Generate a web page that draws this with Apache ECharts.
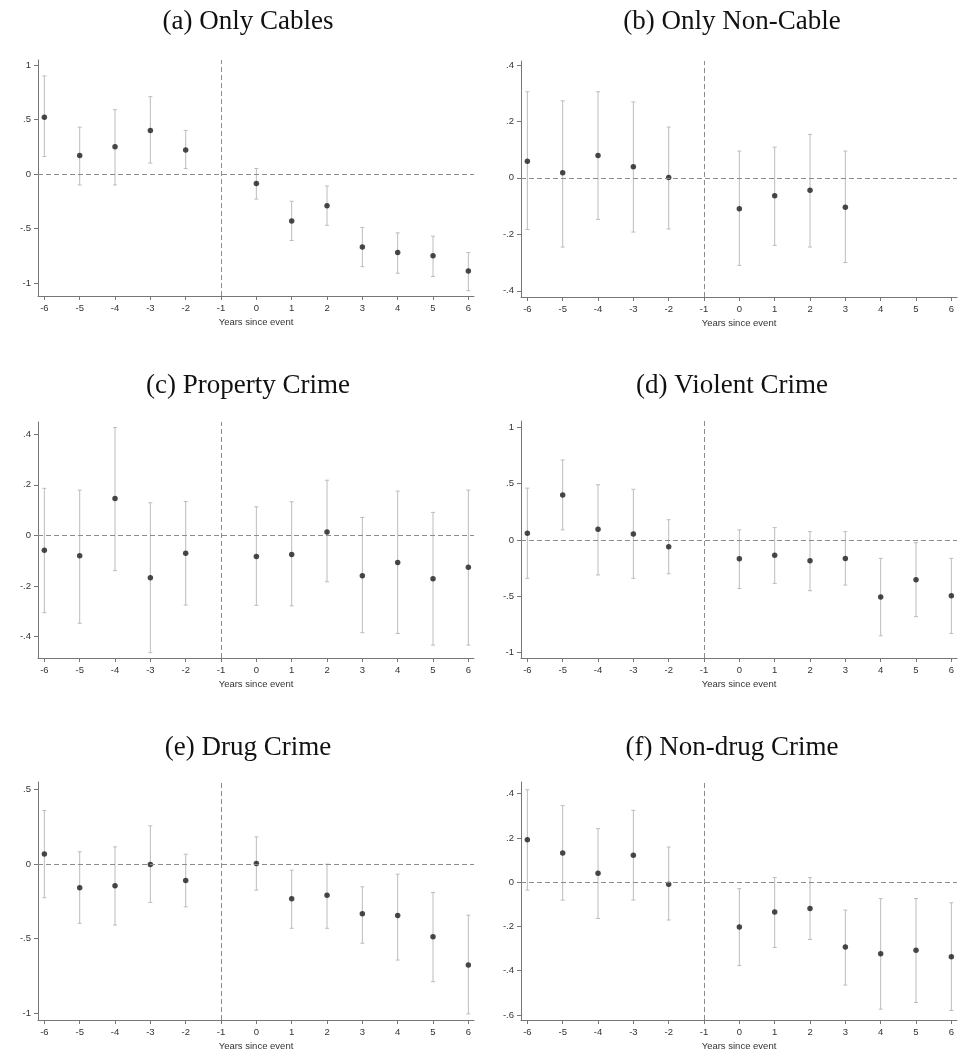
<!DOCTYPE html>
<html>
<head>
<meta charset="utf-8">
<script src="https://cdn.jsdelivr.net/npm/echarts@6/dist/echarts.min.js"></script>
<style>html,body{margin:0;background:#fff}</style>
</head>
<body>
<div id="chart" style="width:969px;height:1062px"></div>
<script>
// event years (-1 is the omitted reference year)
var years = [-6, -5, -4, -3, -2, 0, 1, 2, 3, 4, 5, 6];
var xTicks = [-6, -5, -4, -3, -2, -1, 0, 1, 2, 3, 4, 5, 6];

// (a) Only Cables
var cablesEst = [0.52, 0.17, 0.25, 0.40, 0.22, -0.086, -0.43, -0.29, -0.67, -0.72, -0.75, -0.89];
var cablesLo = [0.16, -0.10, -0.10, 0.10, 0.05, -0.23, -0.61, -0.47, -0.85, -0.91, -0.94, -1.07];
var cablesHi = [0.90, 0.43, 0.59, 0.71, 0.40, 0.05, -0.25, -0.11, -0.49, -0.54, -0.57, -0.72];
var cablesTicks = [-1, -0.5, 0, 0.5, 1];

// (b) Only Non-Cable
var nonCableEst = [0.059, 0.018, 0.079, 0.039, 0.001, -0.109, -0.063, -0.044, -0.104, null, null, null];
var nonCableLo = [-0.183, -0.245, -0.147, -0.192, -0.181, -0.31, -0.239, -0.245, -0.30, null, null, null];
var nonCableHi = [0.305, 0.273, 0.305, 0.269, 0.18, 0.095, 0.109, 0.154, 0.095, null, null, null];
var nonCableTicks = [-0.4, -0.2, 0, 0.2, 0.4];

// (c) Property Crime
var propertyEst = [-0.058, -0.080, 0.146, -0.167, -0.070, -0.083, -0.075, 0.014, -0.159, -0.107, -0.171, -0.126];
var propertyLo = [-0.305, -0.347, -0.139, -0.463, -0.275, -0.276, -0.278, -0.183, -0.384, -0.387, -0.433, -0.433];
var propertyHi = [0.186, 0.179, 0.426, 0.129, 0.134, 0.113, 0.133, 0.218, 0.071, 0.175, 0.091, 0.179];
var propertyTicks = [-0.4, -0.2, 0, 0.2, 0.4];

// (d) Violent Crime
var violentEst = [0.059, 0.40, 0.095, 0.053, -0.059, -0.166, -0.136, -0.183, -0.163, -0.506, -0.352, -0.494];
var violentLo = [-0.34, 0.09, -0.31, -0.34, -0.30, -0.43, -0.385, -0.45, -0.40, -0.85, -0.68, -0.83];
var violentHi = [0.46, 0.71, 0.49, 0.45, 0.18, 0.09, 0.11, 0.074, 0.074, -0.163, -0.024, -0.163];
var violentTicks = [-1, -0.5, 0, 0.5, 1];

// (e) Drug Crime
var drugEst = [0.069, -0.158, -0.145, -0.002, -0.109, 0.004, -0.232, -0.208, -0.333, -0.344, -0.487, -0.676];
var drugLo = [-0.225, -0.397, -0.408, -0.257, -0.286, -0.174, -0.43, -0.43, -0.53, -0.643, -0.788, -1.004];
var drugHi = [0.36, 0.083, 0.116, 0.257, 0.067, 0.183, -0.04, 0.0, -0.152, -0.067, -0.19, -0.342];
var drugTicks = [-1, -0.5, 0, 0.5];

// (f) Non-drug Crime
var nonDrugEst = [0.192, 0.132, 0.041, 0.122, -0.009, -0.202, -0.135, -0.119, -0.293, -0.323, -0.308, -0.337];
var nonDrugLo = [-0.036, -0.081, -0.164, -0.081, -0.171, -0.377, -0.295, -0.259, -0.465, -0.574, -0.544, -0.58];
var nonDrugHi = [0.418, 0.346, 0.242, 0.325, 0.159, -0.029, 0.021, 0.021, -0.126, -0.074, -0.074, -0.093];
var nonDrugTicks = [-0.6, -0.4, -0.2, 0, 0.2, 0.4];

var panels = [
  {title: "(a) Only Cables", est: cablesEst, lo: cablesLo, hi: cablesHi, ticks: cablesTicks,
   left: 38, top: 60, height: 236, min: -1.119, max: 1.046, cx: 243, ty: 3},
  {title: "(b) Only Non-Cable", est: nonCableEst, lo: nonCableLo, hi: nonCableHi, ticks: nonCableTicks,
   left: 521, top: 61, height: 236, min: -0.422, max: 0.414, cx: 727, ty: 3},
  {title: "(c) Property Crime", est: propertyEst, lo: propertyLo, hi: propertyHi, ticks: propertyTicks,
   left: 38, top: 422, height: 236, min: -0.484, max: 0.448, cx: 243, ty: 367},
  {title: "(d) Violent Crime", est: violentEst, lo: violentLo, hi: violentHi, ticks: violentTicks,
   left: 521, top: 421, height: 237, min: -1.047, max: 1.056, cx: 727, ty: 367},
  {title: "(e) Drug Crime", est: drugEst, lo: drugLo, hi: drugHi, ticks: drugTicks,
   left: 38, top: 782, height: 238, min: -1.045, max: 0.551, cx: 243, ty: 729},
  {title: "(f) Non-drug Crime", est: nonDrugEst, lo: nonDrugLo, hi: nonDrugHi, ticks: nonDrugTicks,
   left: 521, top: 782, height: 238, min: -0.623, max: 0.453, cx: 727, ty: 729}
];

// stata style numbers: .5, -.2
function stataLabel(v) {
  var s = String(+v.toFixed(2));
  return s.replace(/^(-?)0\./, "$1.");
}

function errorBar(params, api) {
  var x = api.value(0);
  var lo = api.coord([x, api.value(1)]);
  var hi = api.coord([x, api.value(2)]);
  var style = {stroke: "#bcbcbc", lineWidth: 1};
  return {
    type: "group",
    children: [
      {type: "line", shape: {x1: lo[0], y1: lo[1], x2: hi[0], y2: hi[1]}, style: style},
      {type: "line", shape: {x1: lo[0] - 2, y1: lo[1], x2: lo[0] + 2, y2: lo[1]}, style: style},
      {type: "line", shape: {x1: hi[0] - 2, y1: hi[1], x2: hi[0] + 2, y2: hi[1]}, style: style}
    ]
  };
}

var axisColor = "#777";
var labelFont = {color: "#333", fontFamily: "Liberation Sans", fontSize: 9.5};

var option = {
  animation: false,
  backgroundColor: "#fff",
  title: [],
  grid: [],
  xAxis: [],
  yAxis: [],
  series: []
};

panels.forEach(function (p, i) {
  option.title.push({
    text: p.title,
    left: p.cx,
    top: p.ty,
    textAlign: "center",
    textStyle: {fontFamily: "Liberation Serif", fontSize: 27, fontWeight: "normal", color: "#111"}
  });
  option.grid.push({left: p.left, top: p.top, width: 436, height: p.height});
  option.xAxis.push({
    type: "value",
    gridIndex: i,
    min: -6.18,
    max: 6.16,
    name: "Years since event",
    nameLocation: "middle",
    nameGap: 21,
    nameTextStyle: {color: "#333", fontFamily: "Liberation Sans", fontSize: 9.5},
    axisLine: {show: true, onZero: false, lineStyle: {color: axisColor}},
    axisTick: {show: true, length: 4, customValues: xTicks, lineStyle: {color: axisColor}},
    axisLabel: Object.assign({customValues: xTicks, margin: 7}, labelFont),
    splitLine: {show: false}
  });
  option.yAxis.push({
    type: "value",
    gridIndex: i,
    min: p.min,
    max: p.max,
    axisLine: {show: true, onZero: false, lineStyle: {color: axisColor}},
    axisTick: {show: true, length: 4, customValues: p.ticks, lineStyle: {color: axisColor}},
    axisLabel: Object.assign({customValues: p.ticks, margin: 7, formatter: stataLabel}, labelFont),
    splitLine: {show: false}
  });

  var bars = [];
  var dots = [];
  years.forEach(function (yr, k) {
    if (p.est[k] === null) return;
    bars.push([yr, p.lo[k], p.hi[k]]);
    dots.push([yr, p.est[k]]);
  });

  option.series.push({
    type: "custom",
    xAxisIndex: i,
    yAxisIndex: i,
    renderItem: errorBar,
    data: bars,
    z: 2
  });
  option.series.push({
    type: "scatter",
    xAxisIndex: i,
    yAxisIndex: i,
    symbolSize: 5.5,
    itemStyle: {color: "#1c1c1c"},
    data: dots,
    z: 3,
    markLine: {
      silent: true,
      symbol: ["none", "none"],
      label: {show: false},
      lineStyle: {type: [5, 3], color: "#8c8c8c", width: 1},
      data: [{yAxis: 0}, {xAxis: -1}]
    }
  });
});

var myChart = echarts.init(document.getElementById("chart"));
myChart.setOption(option);
</script>
</body>
</html>
